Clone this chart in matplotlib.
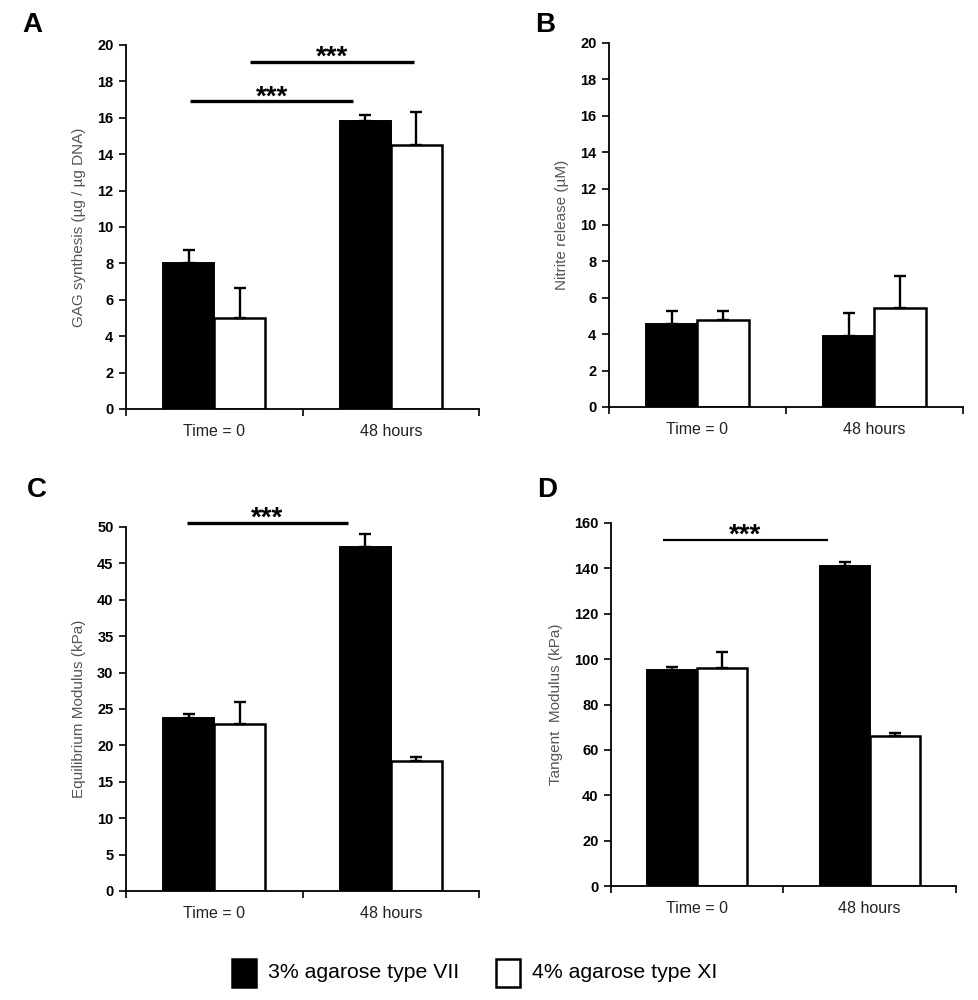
import matplotlib
matplotlib.use("Agg")
import matplotlib.pyplot as plt
import numpy as np
from matplotlib.patches import Rectangle

plt.rcParams['font.family'] = ['Liberation Sans', 'DejaVu Sans']

categories = ["Time = 0", "48 hours"]
series_names = ["3% agarose type VII", "4% agarose type XI"]

gag_black = [8.0, 15.8]
gag_black_err = [0.75, 0.35]
gag_white = [5.0, 14.5]
gag_white_err = [1.65, 1.8]

nitrite_black = [4.55, 3.9]
nitrite_black_err = [0.75, 1.25]
nitrite_white = [4.8, 5.45]
nitrite_white_err = [0.5, 1.75]

eq_black = [23.8, 47.3]
eq_black_err = [0.5, 1.7]
eq_white = [23.0, 17.8]
eq_white_err = [3.0, 0.6]

tan_black = [95.0, 141.0]
tan_black_err = [1.5, 2.0]
tan_white = [96.0, 66.0]
tan_white_err = [7.2, 1.3]

fig = plt.figure(figsize=(9.79, 10.0), dpi=100)

panels = [
    dict(letter="A", rect=[0.1287, 0.591, 0.3606, 0.364], letter_pos=(0.023, 0.9745),
         black=gag_black, berr=gag_black_err, white=gag_white, werr=gag_white_err,
         ymax=20, step=2, ylabel="GAG synthesis (\u00b5g / \u00b5g DNA)",
         sig=[(-0.137, 0.786, 16.9, 2.4), (0.203, 1.13, 19.07, 2.4)]),
    dict(letter="B", rect=[0.622, 0.593, 0.3616, 0.364], letter_pos=(0.547, 0.9755),
         black=nitrite_black, berr=nitrite_black_err, white=nitrite_white, werr=nitrite_white_err,
         ymax=20, step=2, ylabel="Nitrite release (\u00b5M)", sig=[]),
    dict(letter="C", rect=[0.1287, 0.109, 0.3606, 0.364], letter_pos=(0.027, 0.51),
         black=eq_black, berr=eq_black_err, white=eq_white, werr=eq_white_err,
         ymax=50, step=5, ylabel="Equilibrium Modulus (kPa)",
         sig=[(-0.157, 0.76, 50.6, 2.4)]),
    dict(letter="D", rect=[0.6241, 0.114, 0.3524, 0.363], letter_pos=(0.549, 0.5105),
         black=tan_black, berr=tan_black_err, white=tan_white, werr=tan_white_err,
         ymax=160, step=20, ylabel="Tangent  Modulus (kPa)",
         sig=[(-0.2, 0.757, 152.5, 1.6)]),
]

width = 0.29
off = 0.145
x = np.arange(len(categories))

for p in panels:
    ax = fig.add_axes(p["rect"])
    ax.bar(x - off, p["black"], width, color="black", edgecolor="black", linewidth=1.4, zorder=2)
    ax.bar(x + off, p["white"], width, color="white", edgecolor="black", linewidth=1.8, zorder=2)
    ax.errorbar(x - off, p["black"], yerr=[np.zeros(2), p["berr"]], fmt="none",
                ecolor="black", elinewidth=1.7, capsize=4, capthick=1.7, zorder=3)
    ax.errorbar(x + off, p["white"], yerr=[np.zeros(2), p["werr"]], fmt="none",
                ecolor="black", elinewidth=1.7, capsize=4, capthick=1.7, zorder=3)
    ax.set_xlim(-0.5, 1.5)
    ax.set_ylim(0, p["ymax"])
    yt = np.arange(0, p["ymax"] + 0.1, p["step"])
    ax.set_yticks(yt)
    ax.set_yticklabels([f"{int(v)}" for v in yt], fontsize=10.5, fontweight="bold")
    ax.set_xticks([-0.5, 0.5, 1.5])
    ax.set_xticklabels([])
    ax.set_xticks(x, minor=True)
    ax.set_xticklabels(categories, minor=True, fontsize=11.5, color="#222222")
    ax.tick_params(axis="x", which="minor", length=0, pad=11)
    ax.tick_params(axis="x", which="major", direction="out", length=5, width=1.2)
    ax.tick_params(axis="y", direction="out", length=5, width=1.2, pad=4)
    for s in ["top", "right"]:
        ax.spines[s].set_visible(False)
    for s in ["left", "bottom"]:
        ax.spines[s].set_linewidth(1.3)
    ax.set_ylabel(p["ylabel"], fontsize=11, color="#555555", labelpad=8)
    for (x0, x1, y, lw) in p["sig"]:
        ax.plot([x0, x1], [y, y], color="black", linewidth=lw, clip_on=False, solid_capstyle="butt")
        ax.annotate("***", xy=((x0 + x1) / 2, y), xytext=(0, -2), textcoords="offset points",
                    ha="center", va="baseline", fontsize=20, fontweight="bold",
                    annotation_clip=False)
    fig.text(p["letter_pos"][0], p["letter_pos"][1], p["letter"], fontsize=20,
             fontweight="bold", ha="left", va="center")

# legend
lx = [232 / 979, 496 / 979]
fills = ["black", "white"]
for i in range(2):
    fig.patches.append(Rectangle((lx[i], 1 - 987 / 1000), 24 / 979, 28 / 1000,
                                 transform=fig.transFigure, facecolor=fills[i],
                                 edgecolor="black", linewidth=1.8))
    fig.text(lx[i] + 36 / 979, 1 - 973 / 1000, series_names[i], fontsize=15.3,
             ha="left", va="center")

fig.savefig("out.png", dpi=100)
